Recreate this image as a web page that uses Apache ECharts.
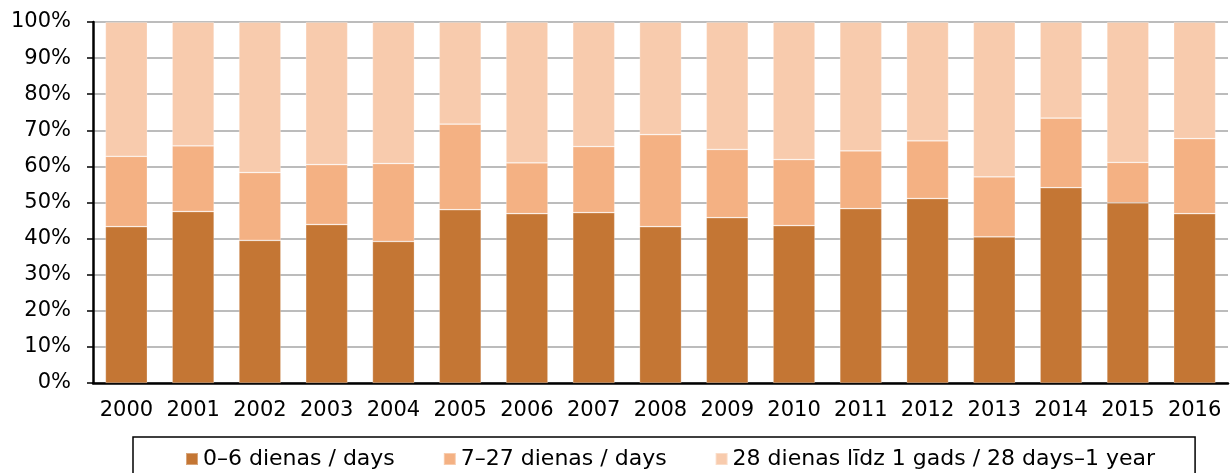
<!DOCTYPE html>
<html>
<head>
<meta charset="utf-8">
<script src="https://cdn.jsdelivr.net/npm/echarts@6/dist/echarts.min.js"></script>
<style>
  html, body { margin: 0; padding: 0; background: #fff; }
  #chart { width: 1230px; height: 473px; }
</style>
</head>
<body>
<div id="chart"></div>
<script>
// years on the category axis
const years = ['2000', '2001', '2002', '2003', '2004', '2005', '2006', '2007', '2008',
  '2009', '2010', '2011', '2012', '2013', '2014', '2015', '2016'];

// shares in %
const days0to6 = [43.3, 47.5, 39.5, 43.9, 39.2, 48.0, 46.9, 47.2, 43.3, 45.8, 43.6, 48.3, 51.1, 40.5, 54.1, 49.9, 46.9];
const days7to27 = [19.5, 18.2, 18.8, 16.6, 21.6, 23.7, 14.1, 18.3, 25.5, 18.9, 18.3, 16.0, 16.0, 16.6, 19.3, 11.2, 20.8];
const days28to1y = [37.2, 34.3, 41.7, 39.5, 39.2, 28.3, 39.0, 34.5, 31.2, 35.3, 38.1, 35.7, 32.9, 42.9, 26.6, 38.9, 32.3];

const seriesNames = ['0–6 dienas / days', '7–27 dienas / days', '28 dienas līdz 1 gads / 28 days–1 year'];
const colors = ['#C47634', '#F4B183', '#F8CBAD'];

const font = 'DejaVu Sans';

const chart = echarts.init(document.getElementById('chart'));

function barSeries(name, data, color) {
  return {
    name: name,
    type: 'bar',
    stack: 'total',
    barWidth: 42,
    data: data,
    itemStyle: {
      color: color,
      borderColor: 'rgba(255, 255, 255, 0.35)',
      borderWidth: 0.75
    }
  };
}

chart.setOption({
  animation: false,
  backgroundColor: '#fff',
  textStyle: { fontFamily: font },
  grid: {
    left: 93,
    right: 2,
    top: 22,
    bottom: 90
  },
  legend: {
    left: 133,
    top: 437,
    padding: [11, 40, 20, 52],
    itemGap: 48,
    itemWidth: 12,
    itemHeight: 12,
    icon: 'rect',
    borderColor: '#000',
    borderWidth: 1.5,
    textStyle: { fontFamily: font, fontSize: 22, color: '#000' },
    data: seriesNames
  },
  xAxis: {
    type: 'category',
    data: years,
    axisLine: { lineStyle: { color: '#000', width: 2.5 } },
    axisTick: { alignWithLabel: true, length: 6, lineStyle: { color: '#000', width: 1.5 } },
    axisLabel: { color: '#000', fontSize: 21, fontFamily: font, margin: 17, interval: 0 },
    splitLine: { show: false }
  },
  yAxis: {
    type: 'value',
    min: 0,
    max: 100,
    interval: 10,
    axisLine: { show: true, lineStyle: { color: '#000', width: 2.5 } },
    axisTick: { show: true, length: 6, lineStyle: { color: '#000', width: 1.5 } },
    axisLabel: { color: '#000', fontSize: 21, fontFamily: font, margin: 22, formatter: '{value}%' },
    splitLine: { lineStyle: { color: '#A6A6A6', width: 1.5 } }
  },
  series: [
    barSeries(seriesNames[0], days0to6, colors[0]),
    barSeries(seriesNames[1], days7to27, colors[1]),
    barSeries(seriesNames[2], days28to1y, colors[2])
  ]
});
</script>
</body>
</html>
